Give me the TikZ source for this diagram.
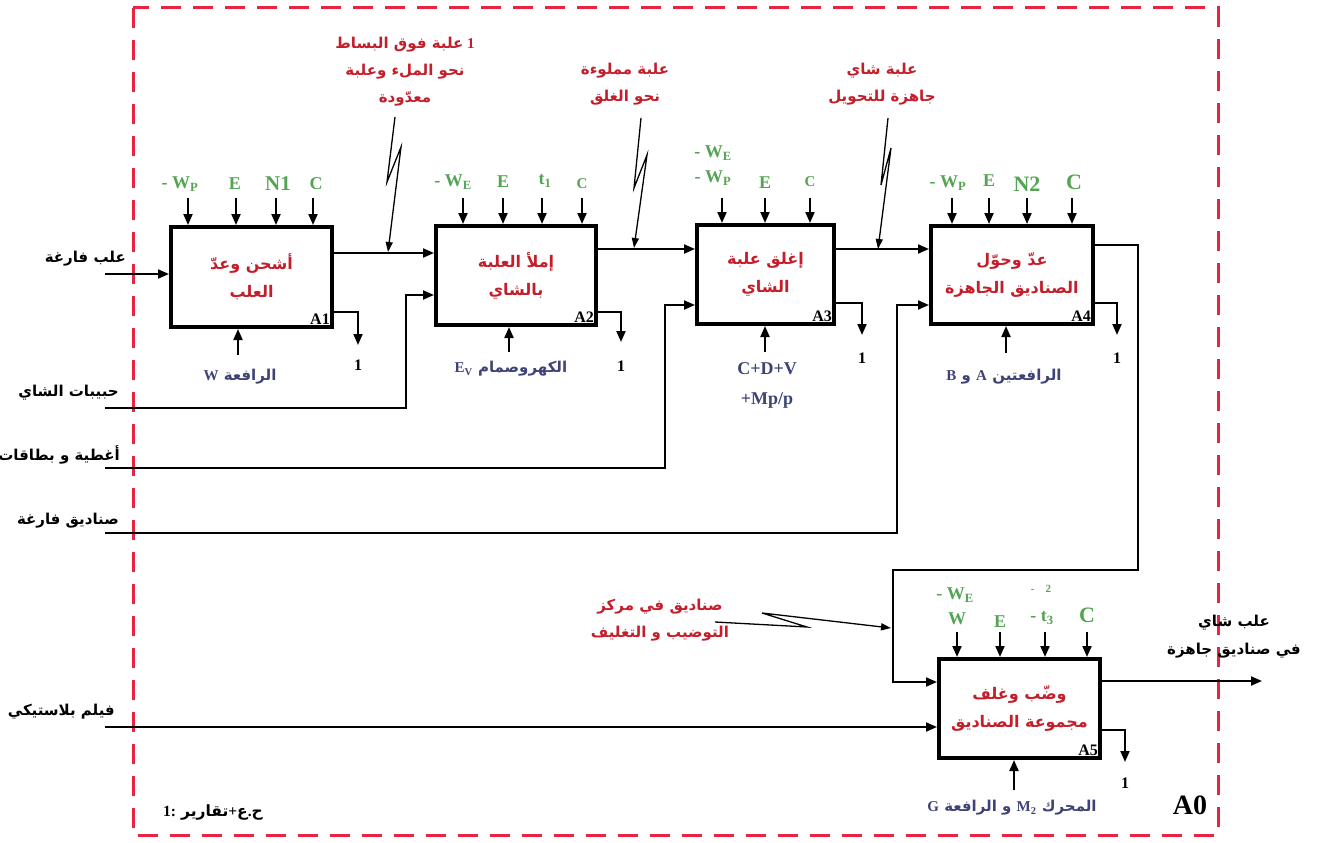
\documentclass[tikz,border=0pt]{standalone}
\usepackage{fontspec}
\setmainfont{Liberation Serif}
\newfontfamily\arabicfont[Script=Arabic]{DejaVu Sans}
\TeXXeTstate=1
\usepackage{tikz}
\usetikzlibrary{calc}
\usetikzlibrary{arrows.meta}
\definecolor{framered}{RGB}{232,36,66}
\definecolor{actred}{RGB}{196,30,42}
\definecolor{ctrlgreen}{RGB}{84,164,84}
\definecolor{mechblue}{RGB}{62,66,118}
\newcommand{\artxt}[1]{{\arabicfont\beginR #1\endR}}
\newcommand{\lat}[1]{{\rmfamily\bfseries #1}}
\tikzstyle{frame}=[draw=framered, line width=3pt, dash pattern=on 20pt off 12pt]
\tikzstyle{act}=[draw, line width=4pt, inner sep=0pt, text=actred, align=center, font=\fontsize{16}{28}\selectfont\bfseries]
\tikzstyle{flow}=[line width=2pt, -{Triangle[length=11pt,width=9pt]}]
\tikzstyle{feed}=[line width=1.3pt, -{Triangle[length=10pt,width=7pt]}]
\tikzstyle{ctrl}=[text=ctrlgreen, inner sep=0pt, font=\fontsize{18}{18}\selectfont\bfseries]
\tikzstyle{mech}=[text=mechblue, inner sep=0pt, align=center, font=\fontsize{15}{30}\selectfont\bfseries]
\tikzstyle{note}=[text=actred, inner sep=0pt, align=center, font=\fontsize{15}{27}\selectfont\bfseries]
\tikzstyle{src}=[anchor=east, inner sep=0pt, align=center, font=\fontsize{15}{28}\selectfont\bfseries]
\tikzstyle{tag}=[anchor=south east, inner sep=0pt, font=\fontsize{16}{16}\selectfont\bfseries]
\tikzstyle{one}=[inner sep=0pt, font=\fontsize{16}{16}\selectfont\bfseries]

\begin{document}
\begin{tikzpicture}[x=1pt,y=-1pt]
    \useasboundingbox (0,0) rectangle (1317,843);

    %frame
    \draw [frame] (133,8) rectangle (1218,835);

    %activities
    \node [act, minimum width=161pt, minimum height=100pt] (a1) at (251.5,277) {\artxt{أشحن وعدّ}\\\artxt{العلب}};
    \node [act, minimum width=160pt, minimum height=99pt] (a2) at (516,275.5) {\artxt{إملأ العلبة}\\\artxt{بالشاي}};
    \node [act, minimum width=137pt, minimum height=99pt] (a3) at (765.5,274.5) {\artxt{إغلق علبة}\\\artxt{الشاي}};
    \node [act, minimum width=162pt, minimum height=98pt] (a4) at (1012,275) {\artxt{عدّ وحوّل}\\\artxt{الصناديق الجاهزة}};
    \node [act, minimum width=161pt, minimum height=99pt] (a5) at (1019.5,708.5) {\artxt{وضّب وغلف}\\\artxt{مجموعة الصناديق}};
    \node [tag] (l1) at ([shift={(-4pt,4pt)}]a1.south east) {A1};
    \node [tag] (l2) at ([shift={(-4pt,4pt)}]a2.south east) {A2};
    \node [tag] (l3) at ([shift={(-4pt,4pt)}]a3.south east) {A3};
    \node [tag] (l4) at ([shift={(-4pt,4pt)}]a4.south east) {A4};
    \node [tag] (l5) at ([shift={(-4pt,4pt)}]a5.south east) {A5};

    %flow between activities
    \draw [flow] ([yshift=24pt]a1.east) -- ([yshift=24pt]a1.east -| a2.west);
    \draw [flow] ([yshift=26.5pt]a2.east) -- ([yshift=26.5pt]a2.east -| a3.west);
    \draw [flow] ([yshift=25.5pt]a3.east) -- ([yshift=25.5pt]a3.east -| a4.west);
    \coordinate (k1) at (1138,570);
    \coordinate (k2) at (893,682);
    \draw [flow] ([yshift=30pt]a4.east) -| (k1) -| (k2) -- (k2 -| a5.west);
    \coordinate (out) at (1262,681);
    \draw [flow] (out -| a5.east) -- (out);
    \node [src, anchor=center] (o1) at (1234,637) {\artxt{علب شاي}\\\artxt{في صناديق جاهزة}};

    %inputs
    \coordinate (in1) at (105,274);
    \coordinate (in2) at (105,408);
    \coordinate (in3) at (105,468);
    \coordinate (in4) at (105,533);
    \coordinate (in5) at (105,727);
    \coordinate (j2) at (406,295);
    \coordinate (j3) at (665,305);
    \coordinate (j4) at (897,305);
    \node [src] (s1) at (126,259) {\artxt{علب فارغة}};
    \node [src] (s2) at (119,393) {\artxt{حبيبات الشاي}};
    \node [src] (s3) at (120,455) {\artxt{أغطية و بطاقات}};
    \node [src] (s4) at (119,521) {\artxt{صناديق فارغة}};
    \node [src] (s5) at (115,712) {\artxt{فيلم بلاستيكي}};
    \draw [flow] (in1) -- (in1 -| a1.west);
    \draw [flow] (in2) -| (j2) -- (j2 -| a2.west);
    \draw [flow] (in3) -| (j3) -- (j3 -| a3.west);
    \draw [flow] (in4) -| (j4) -- (j4 -| a4.west);
    \draw [flow] (in5) -- (in5 -| a5.west);

    %controls
    \foreach \x in {188,236,276,313}{\draw [flow] (\x,198) coordinate (t) -- (t |- a1.north);}
    \foreach \x in {463,503,542,582}{\draw [flow] (\x,198) coordinate (t) -- (t |- a2.north);}
    \foreach \x in {722,765,810}{\draw [flow] (\x,198) coordinate (t) -- (t |- a3.north);}
    \foreach \x in {952,989,1027,1072}{\draw [flow] (\x,198) coordinate (t) -- (t |- a4.north);}
    \foreach \x in {957,1000,1045,1087}{\draw [flow] (\x,632) coordinate (t) -- (t |- a5.north);}

    \node [ctrl] (c11) at (180,184) {- W\textsubscript{P}};
    \node [ctrl] (c12) at (235,184) {E};
    \node [ctrl, font=\fontsize{21}{21}\selectfont\bfseries] (c13) at (278,184) {N1};
    \node [ctrl] (c14) at (316,184) {C};
    \node [ctrl] (c21) at (453,182) {- W\textsubscript{E}};
    \node [ctrl] (c22) at (503,182) {E};
    \node [ctrl] (c23) at (545,181) {t\textsubscript{1}};
    \node [ctrl, font=\fontsize{15}{15}\selectfont\bfseries] (c24) at (582,184) {C};
    \node [ctrl] (c31) at (713,153) {- W\textsubscript{E}};
    \node [ctrl] (c32) at (713,178) {- W\textsubscript{P}};
    \node [ctrl] (c33) at (765,183) {E};
    \node [ctrl, font=\fontsize{15}{15}\selectfont\bfseries] (c34) at (810,182) {C};
    \node [ctrl] (c41) at (948,183) {- W\textsubscript{P}};
    \node [ctrl] (c42) at (989,181) {E};
    \node [ctrl, font=\fontsize{22}{22}\selectfont\bfseries] (c43) at (1027,184) {N2};
    \node [ctrl, font=\fontsize{22}{22}\selectfont\bfseries] (c44) at (1074,182) {C};
    \node [ctrl] (c51) at (955,595) {- W\textsubscript{E}};
    \node [ctrl] (c52) at (957,619) {W};
    \node [ctrl] (c53) at (1000,622) {E};
    \node [ctrl, font=\fontsize{11}{11}\selectfont\bfseries] (c54) at (1041,589) {-\quad2};
    \node [ctrl] (c55) at (1042,618) {- t\textsubscript{3}};
    \node [ctrl, font=\fontsize{22}{22}\selectfont\bfseries] (c56) at (1087,615) {C};

    %mechanisms
    \coordinate (m1) at (238,355);
    \coordinate (m2) at (509,352);
    \coordinate (m3) at (765,352);
    \coordinate (m4) at (1006,353);
    \coordinate (m5) at (1014,790);
    \draw [flow] (m1) -- (m1 |- a1.south);
    \draw [flow] (m2) -- (m2 |- a2.south);
    \draw [flow] (m3) -- (m3 |- a3.south);
    \draw [flow] (m4) -- (m4 |- a4.south);
    \draw [flow] (m5) -- (m5 |- a5.south);
    \node [mech] (u1) at (240,377) {\artxt{الرافعة \lat{W}}};
    \node [mech] (u2) at (511,369) {\artxt{الكهروصمام \beginL\lat{E\textsubscript{V}}\endL}};
    \node [mech, font=\fontsize{18}{30}\selectfont\bfseries] (u3) at (767,385) {C+D+V\\+Mp/p};
    \node [mech] (u4) at (1004,377) {\artxt{الرافعتين \lat{A} و \lat{B}}};
    \node [mech] (u5) at (1012,808) {\artxt{المحرك \beginL\lat{M\textsubscript{2}}\endL\ و الرافعة \lat{G}}};

    %outputs 1
    \coordinate (r1) at (358,345);
    \coordinate (r2) at (621,342);
    \coordinate (r3) at (862,335);
    \coordinate (r4) at (1117,335);
    \coordinate (r5) at (1125,762);
    \draw [flow] ([yshift=-35pt]a1.east) -| (r1);
    \draw [flow] ([yshift=-36.5pt]a2.east) -| (r2);
    \draw [flow] ([yshift=-28.5pt]a3.east) -| (r3);
    \draw [flow] ([yshift=-28pt]a4.east) -| (r4);
    \draw [flow] ([yshift=-21.5pt]a5.east) -| (r5);
    \node [one] (e1) at (358,365) {1};
    \node [one] (e2) at (621,366) {1};
    \node [one] (e3) at (862,358) {1};
    \node [one] (e4) at (1117,358) {1};
    \node [one] (e5) at (1125,783) {1};

    %notes
    \node [note] (n1) at (405,72) {\artxt{علبة فوق البساط}~\lat{1}\\\artxt{نحو الملء وعلبة}\\\artxt{معدّودة}};
    \node [note] (n2) at (625,84) {\artxt{علبة مملوءة}\\\artxt{نحو الغلق}};
    \node [note] (n3) at (882,84) {\artxt{علبة شاي}\\\artxt{جاهزة للتحويل}};
    \node [note] (n4) at (660,620) {\artxt{صناديق في مركز}\\\artxt{التوضيب و التغليف}};
    \coordinate (z1) at (388,252);
    \coordinate (z2) at (634,248);
    \coordinate (z3) at (878,249);
    \coordinate (z4) at (891,628);
    \draw [feed] (395,117) -- (387,182) -- (401,147) -- (z1);
    \draw [feed] (641,118) -- (634,188) -- (647,155) -- (z2);
    \draw [feed] (888,118) -- (881,185) -- (891,148) -- (z3);
    \draw [feed] (715,622) -- (807,627) -- (762,613) -- (z4);

    \node [src, anchor=center, font=\fontsize{15.5}{16}\selectfont\bfseries] (leg) at (213,812) {\lat{1:} \artxt{تقارير}+\artxt{ع}.\artxt{ح}};
    \node [inner sep=0pt, font=\fontsize{28}{28}\selectfont\bfseries] (a0) at (1190,805) {A0};

\end{tikzpicture}
\end{document}
